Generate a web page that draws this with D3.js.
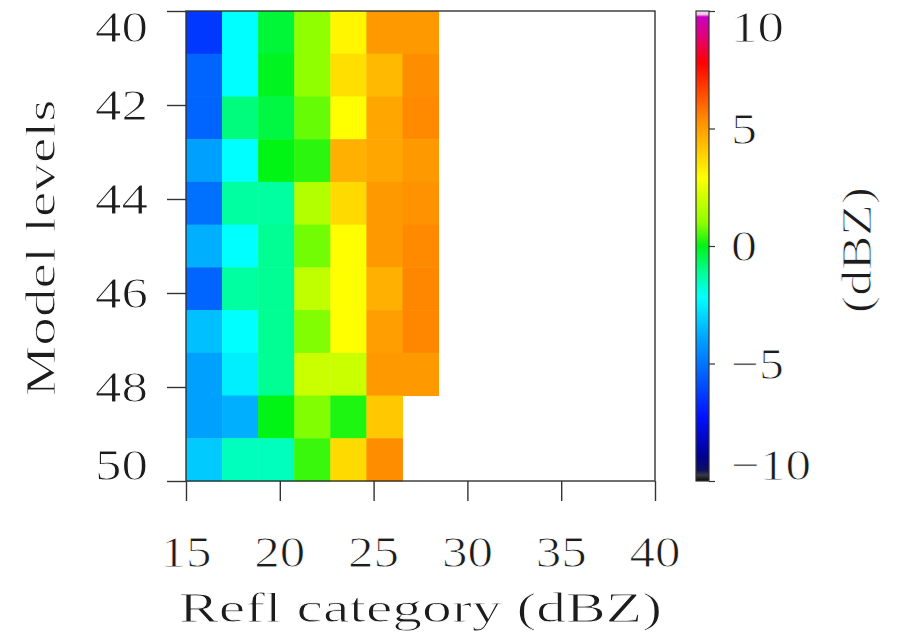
<!DOCTYPE html>
<html>
<head>
<meta charset="utf-8">
<script src="https://d3js.org/d3.v7.min.js"></script>
<style>
  body { margin: 0; background: #fff; }
  text {
    font-family: "Liberation Serif", "DejaVu Serif", serif;
    fill: #1c1c1c;
    stroke: #fff;
    stroke-width: 0.9px;
  }
</style>
</head>
<body>
<div id="chart"></div>
<script>
// model levels (rows, top to bottom) and reflectivity categories (columns)
var levels = [40, 41, 42, 43, 44, 45, 46, 47, 48, 49, 50];
var categories = [15, 17, 19, 21, 23, 25, 27, 29, 31, 33, 35, 37, 39];

// mean difference (dBZ) per level, one entry per category; null = no data
var bias = [
    [-6.4, -2.2, -0.3, 1.0, 3.1, 5.1, 5.1],
    [-5.4, -2.2, -0.1, 1.0, 3.6, 4.4, 5.35],
    [-5.4, -0.9, -0.4, 0.7, 2.9, 4.8, 5.4],
    [-4.0, -2.2, 0.0, 0.3, 4.6, 4.8, 5.1],
    [-5.1, -1.2, -1.2, 1.6, 3.7, 5.1, 5.25],
    [-3.7, -2.2, -1.1, 0.8, 2.9, 5.1, 5.4],
    [-5.4, -1.2, -1.1, 1.8, 2.9, 4.6, 5.45],
    [-3.4, -2.2, -1.1, 0.9, 2.9, 5.0, 5.45],
    [-4.0, -2.5, -1.1, 2.0, 2.0, 5.1, 5.1],
    [-4.0, -3.7, 0.0, 0.9, 0.2, 4.1, null],
    [-3.2, -1.5, -1.5, 0.4, 3.7, 5.35, null]
];

var xTicks = [15, 20, 25, 30, 35, 40];
var yTicks = [40, 42, 44, 46, 48, 50];
var barTicks = [-10, -5, 0, 5, 10];

// colour table
var cmapValues = [-10, -9.75, -9.55, -9, -7.3, -5.5, -4, -2.2, -1.2, 0, 1, 2.9, 5.3, 7.8, 9, 9.75, 9.85, 10];
var cmapColors = ["#0a0a0a", "#3a3a44", "#101060", "#000090", "#0010ff", "#0060ff", "#00a0ff", "#00ffff",
    "#00ffa0", "#00f414", "#90ff00", "#ffff00", "#ff9000", "#ff0000", "#e00080", "#c800c0", "#f0c0e8", "#f8e0f0"];

var width = 897, height = 635;
var plotLeft = 186, plotRight = 655, plotTop = 11, plotBottom = 481;

var svg = d3.select("#chart").append("svg")
    .attr("width", width)
    .attr("height", height);

var color = d3.scaleLinear()
    .domain(cmapValues)
    .range(cmapColors)
    .clamp(true);

var xBand = d3.scaleBand().domain(categories).range([plotLeft, plotRight]);
var yBand = d3.scaleBand().domain(levels).range([plotTop, plotBottom]);
var x = d3.scaleLinear().domain([15, 40]).range([plotLeft, plotRight]);
var y = d3.scaleLinear().domain([40, 50]).range([plotTop, plotBottom]);

// cells
var cells = [];
bias.forEach(function(row, i) {
    row.forEach(function(v, j) {
        if (v !== null) cells.push({level: levels[i], cat: categories[j], value: v});
    });
});

svg.append("g")
    .selectAll("rect")
    .data(cells).enter()
    .append("rect")
    .attr("x", function(d) { return xBand(d.cat); })
    .attr("y", function(d) { return yBand(d.level); })
    .attr("width", xBand.bandwidth() + 0.5)
    .attr("height", yBand.bandwidth() + 0.5)
    .attr("fill", function(d) { return color(d.value); });

// frame
svg.append("rect")
    .attr("x", plotLeft).attr("y", plotTop)
    .attr("width", plotRight - plotLeft).attr("height", plotBottom - plotTop)
    .attr("fill", "none")
    .attr("stroke", "#333")
    .attr("stroke-width", 1.4);

// ticks
var yAxis = svg.append("g")
    .attr("transform", "translate(" + plotLeft + ",0)")
    .call(d3.axisLeft(y).tickValues(yTicks).tickSize(19).tickFormat(""));
var xAxis = svg.append("g")
    .attr("transform", "translate(0," + plotBottom + ")")
    .call(d3.axisBottom(x).tickValues(xTicks).tickSize(20).tickFormat(""));
[yAxis, xAxis].forEach(function(a) {
    a.select(".domain").remove();
    a.selectAll("line").attr("stroke", "#333").attr("stroke-width", 1.4);
});

function clampY(v, half) {
    return Math.max(plotTop + half, Math.min(plotBottom - half, v));
}

// tick labels
svg.append("g").selectAll("text")
    .data(yTicks).enter()
    .append("text")
    .attr("x", 148)
    .attr("y", function(d) { return clampY(y(d), 16) + 15; })
    .attr("text-anchor", "end")
    .attr("font-size", 44)
    .attr("textLength", 53)
    .attr("lengthAdjust", "spacingAndGlyphs")
    .text(function(d) { return d; });

svg.append("g").selectAll("text")
    .data(xTicks).enter()
    .append("text")
    .attr("x", function(d) { return x(d); })
    .attr("y", 567)
    .attr("text-anchor", "middle")
    .attr("font-size", 44)
    .attr("textLength", 51)
    .attr("lengthAdjust", "spacingAndGlyphs")
    .text(function(d) { return d; });

// axis titles
svg.append("text")
    .attr("x", (plotLeft + plotRight) / 2)
    .attr("y", 622)
    .attr("text-anchor", "middle")
    .attr("font-size", 42)
    .attr("textLength", 483)
    .attr("lengthAdjust", "spacingAndGlyphs")
    .text("Refl category (dBZ)");

svg.append("text")
    .attr("transform", "translate(55," + ((plotTop + plotBottom) / 2 + 2) + ") rotate(-90)")
    .attr("text-anchor", "middle")
    .attr("font-size", 42)
    .attr("textLength", 297)
    .attr("lengthAdjust", "spacingAndGlyphs")
    .text("Model levels");

// colour bar
var barX = 696, barW = 13;
var cb = d3.scaleLinear().domain([-10, 10]).range([plotBottom, plotTop]);

var grad = svg.append("defs").append("linearGradient")
    .attr("id", "cbar")
    .attr("x1", 0).attr("y1", 1).attr("x2", 0).attr("y2", 0);
grad.selectAll("stop")
    .data(cmapValues).enter()
    .append("stop")
    .attr("offset", function(d) { return (d + 10) / 20; })
    .attr("stop-color", function(d, i) { return cmapColors[i]; });

svg.append("rect")
    .attr("x", barX).attr("y", plotTop)
    .attr("width", barW).attr("height", plotBottom - plotTop)
    .attr("fill", "url(#cbar)")
    .attr("stroke", "#333")
    .attr("stroke-width", 1.2);

var cbAxis = svg.append("g")
    .attr("transform", "translate(" + (barX + barW) + ",0)")
    .call(d3.axisRight(cb).tickValues(barTicks).tickSize(6).tickFormat(""));
cbAxis.select(".domain").remove();
cbAxis.selectAll("line").attr("stroke", "#333").attr("stroke-width", 1.2);

svg.append("g").selectAll("text")
    .data(barTicks).enter()
    .append("text")
    .attr("x", 731)
    .attr("y", function(d) { return clampY(cb(d), 16) + 15; })
    .attr("font-size", 44)
    .attr("textLength", function(d) { var s = d3.format("")(d); return s.length * 27 - 1; })
    .attr("lengthAdjust", "spacingAndGlyphs")
    .text(function(d) { return d3.format("")(d); });

svg.append("text")
    .attr("transform", "translate(871," + ((plotTop + plotBottom) / 2 + 4) + ") rotate(-90)")
    .attr("text-anchor", "middle")
    .attr("font-size", 42)
    .attr("textLength", 126)
    .attr("lengthAdjust", "spacingAndGlyphs")
    .text("(dBZ)");
</script>
</body>
</html>
